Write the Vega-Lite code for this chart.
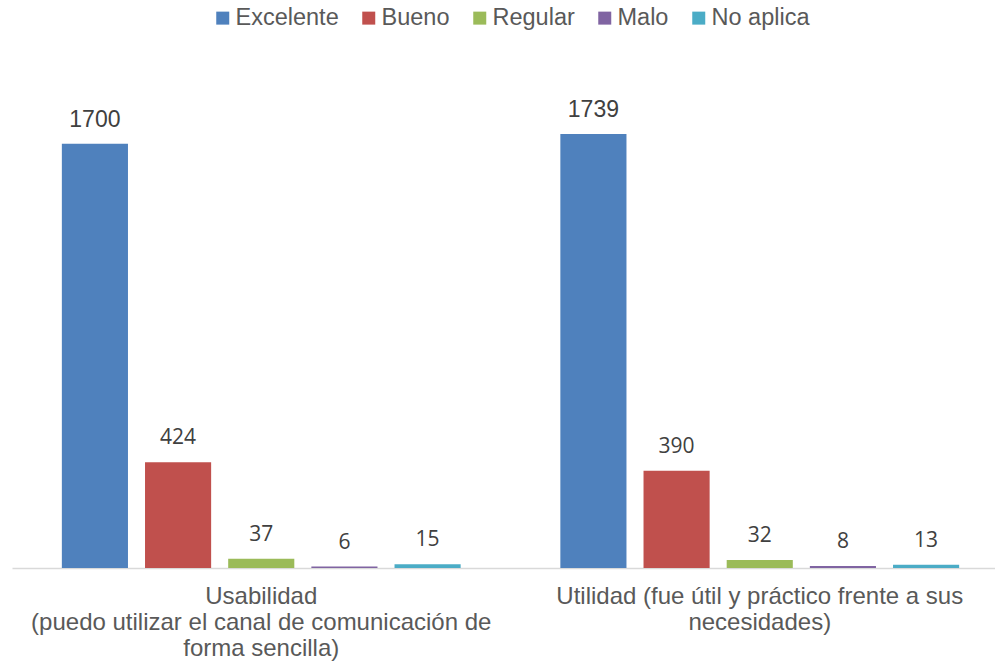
{
  "$schema": "https://vega.github.io/schema/vega-lite/v6.json",
  "autosize": "none",
  "width": 997,
  "height": 499,
  "padding": {"left": 12, "top": 69, "right": 0, "bottom": 94},
  "background": "#ffffff",
  "config": {"view": {"stroke": null}},
  "data": {
    "values": [
      {"grupo": "Usabilidad|(puedo utilizar el canal de comunicación de|forma sencilla)", "calificacion": "Excelente", "valor": 1700},
      {"grupo": "Usabilidad|(puedo utilizar el canal de comunicación de|forma sencilla)", "calificacion": "Bueno", "valor": 424},
      {"grupo": "Usabilidad|(puedo utilizar el canal de comunicación de|forma sencilla)", "calificacion": "Regular", "valor": 37},
      {"grupo": "Usabilidad|(puedo utilizar el canal de comunicación de|forma sencilla)", "calificacion": "Malo", "valor": 6},
      {"grupo": "Usabilidad|(puedo utilizar el canal de comunicación de|forma sencilla)", "calificacion": "No aplica", "valor": 15},
      {"grupo": "Utilidad (fue útil y  práctico frente a sus|necesidades)", "calificacion": "Excelente", "valor": 1739},
      {"grupo": "Utilidad (fue útil y  práctico frente a sus|necesidades)", "calificacion": "Bueno", "valor": 390},
      {"grupo": "Utilidad (fue útil y  práctico frente a sus|necesidades)", "calificacion": "Regular", "valor": 32},
      {"grupo": "Utilidad (fue útil y  práctico frente a sus|necesidades)", "calificacion": "Malo", "valor": 8},
      {"grupo": "Utilidad (fue útil y  práctico frente a sus|necesidades)", "calificacion": "No aplica", "valor": 13}
    ]
  },
  "encoding": {
    "x": {
      "field": "grupo",
      "type": "nominal",
      "sort": null,
      "scale": {"paddingInner": 0.2, "paddingOuter": 0.1},
      "axis": {
        "title": null,
        "labelAngle": 0,
        "ticks": false,
        "labelExpr": "split(datum.label, '|')",
        "labelFont": "Liberation Sans",
        "labelFontSize": 24,
        "labelColor": "#595959",
        "labelLineHeight": 26,
        "labelPadding": 16,
        "labelLimit": 0,
        "domainColor": "#d9d9d9",
        "domainWidth": 1.5
      }
    },
    "xOffset": {
      "field": "calificacion",
      "type": "nominal",
      "sort": ["Excelente", "Bueno", "Regular", "Malo", "No aplica"],
      "scale": {"paddingInner": 0.205, "paddingOuter": 0}
    },
    "y": {
      "field": "valor",
      "type": "quantitative",
      "scale": {"domain": [0, 2000], "nice": false},
      "axis": null
    }
  },
  "layer": [
    {
      "mark": {"type": "bar"},
      "encoding": {
        "color": {
          "field": "calificacion",
          "type": "nominal",
          "sort": ["Excelente", "Bueno", "Regular", "Malo", "No aplica"],
          "scale": {
            "domain": ["Excelente", "Bueno", "Regular", "Malo", "No aplica"],
            "range": ["#4F81BD", "#C0504D", "#9BBB59", "#8064A2", "#4BACC6"]
          },
          "legend": {
            "title": null,
            "orient": "none",
            "direction": "horizontal",
            "legendX": 199,
            "legendY": -63,
            "symbolType": "square",
            "symbolSize": 169,
            "symbolStrokeWidth": 0,
            "labelFont": "Liberation Sans",
            "labelFontSize": 23.5,
            "labelColor": "#595959",
            "labelOffset": 1,
            "columnPadding": 18,
            "labelLimit": 0
          }
        }
      }
    },
    {
      "transform": [{"filter": "datum.valor >= 1000"}],
      "mark": {"type": "text", "baseline": "alphabetic", "dy": -17, "font": "Liberation Sans", "fontSize": 23, "color": "#404040"},
      "encoding": {"text": {"field": "valor", "type": "quantitative"}}
    },
    {
      "transform": [{"filter": "datum.valor < 1000"}],
      "mark": {"type": "text", "baseline": "alphabetic", "dy": -18, "font": "Open Sans", "fontSize": 21, "color": "#404040"},
      "encoding": {"text": {"field": "valor", "type": "quantitative"}}
    }
  ]
}
